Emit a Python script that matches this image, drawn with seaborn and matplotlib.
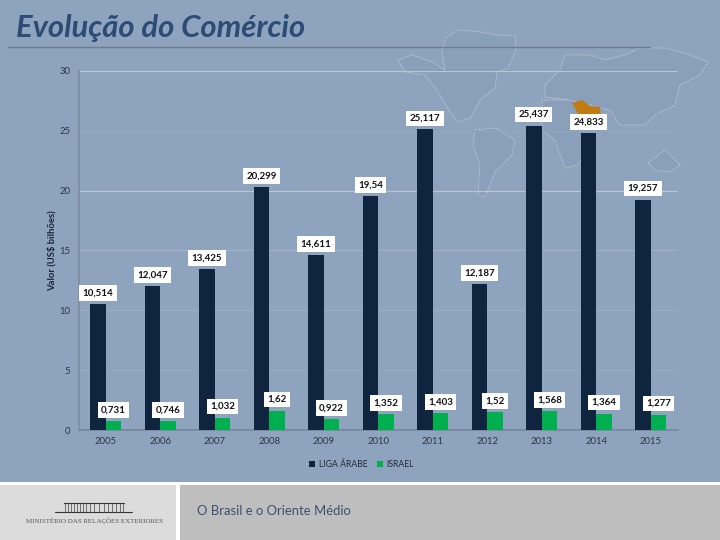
#!/bin/python3
import pandas as pd
import matplotlib.pyplot as plt
from matplotlib.patches import Polygon, Rectangle
import seaborn as sns

years = ["2005", "2006", "2007", "2008", "2009", "2010", "2011", "2012", "2013", "2014", "2015"]
liga_arabe = [10.514, 12.047, 13.425, 20.299, 14.611, 19.54, 25.117, 12.187, 25.437, 24.833, 19.257]
israel = [0.731, 0.746, 1.032, 1.62, 0.922, 1.352, 1.403, 1.52, 1.568, 1.364, 1.277]
y_ticks = [0, 5, 10, 15, 20, 25, 30]

BG = "#8EA3BE"
W, H = 720, 540
FONT = "Lato"

# Rough outlines of the world map behind the chart, in image pixels
map_shapes = [
    [(398, 60), (412, 55), (432, 62), (445, 70), (442, 50), (446, 38), (458, 30), (480, 32), (497, 35),
     (515, 36), (516, 50), (508, 68), (497, 72), (495, 88), (480, 100), (470, 118), (458, 122), (450, 112),
     (437, 90), (425, 75), (405, 72)],
    [(475, 130), (495, 128), (515, 140), (512, 155), (495, 172), (485, 197), (478, 195), (480, 165), (473, 145)],
    [(542, 100), (575, 100), (582, 118), (590, 145), (578, 165), (565, 168), (555, 140), (542, 130)],
    [(545, 85), (560, 70), (565, 55), (590, 55), (605, 60), (625, 55), (640, 48), (665, 48), (690, 55),
     (708, 62), (700, 75), (680, 85), (675, 105), (655, 115), (645, 125), (620, 125), (610, 110),
     (590, 105), (570, 100), (545, 97)],
    [(648, 163), (665, 150), (680, 165), (670, 172), (655, 170)],
]
orange_shape = [(572, 103), (582, 100), (590, 106), (600, 107), (601, 118), (580, 118), (576, 110)]


def px_rect(left, top, right, bottom):
    return [left / W, 1 - bottom / H, (right - left) / W, (bottom - top) / H]


def draw_backdrop(fig):
    # Overlay axes in pixel units for the slide decoration
    bg = fig.add_axes([0, 0, 1, 1], zorder=0)
    bg.set_xlim(0, W)
    bg.set_ylim(H, 0)
    bg.axis("off")

    for shape in map_shapes:
        bg.add_patch(Polygon(shape, closed=True, facecolor="#8A9FBA", edgecolor="#D5DEEA",
                             linewidth=0.5, linestyle=(0, (1.5, 1.5))))
    bg.add_patch(Polygon(orange_shape, closed=True, facecolor="#C07A12", edgecolor="none", zorder=3))

    bg.plot([8, 650], [46.5, 46.5], color="#6E7D90", linewidth=1)
    bg.text(16, 28, "Evolução do Comércio", fontsize=22.3, fontweight="bold", fontstyle="italic",
            color="#2C4B75", va="center", family=FONT)

    # Footer panels
    bg.add_patch(Rectangle((0, 482), W, 58, facecolor="white", edgecolor="none"))
    bg.add_patch(Rectangle((0, 485), 176, 55, facecolor="#DCDCDC", edgecolor="none"))
    bg.add_patch(Rectangle((180, 485), W - 180, 55, facecolor="#BEBEBE", edgecolor="none"))
    bg.text(197, 511, "O Brasil e o Oriente Médio", fontsize=9.4, color="#3D4F6E", va="center", family=FONT)

    # Ministry logo
    bg.plot([55, 132], [512, 512], color="#333333", linewidth=0.8)
    bg.plot([64, 124], [503, 503], color="#333333", linewidth=0.8)
    for x in [65, 68, 71, 74, 77, 80, 83, 86, 90, 94, 99, 104, 108, 112, 116, 120, 123]:
        bg.plot([x, x], [503, 512], color="#444444", linewidth=0.5)
    bg.text(95, 520.5, "MINISTÉRIO DAS RELAÇÕES EXTERIORES", fontsize=5, color="#555555",
            ha="center", va="center", family="Liberation Serif")


def create_bar_chart(fig):
    data = pd.DataFrame({
        "Ano": years * 2,
        "Valor": liga_arabe + israel,
        "Serie": ["LIGA ÁRABE"] * len(years) + ["ISRAEL"] * len(years),
    })

    ax = fig.add_axes(px_rect(78.5, 71, 678, 430), zorder=2)
    ax.patch.set_alpha(0)
    sns.barplot(data=data, x="Ano", y="Valor", hue="Serie", order=years, ax=ax,
                palette={"LIGA ÁRABE": "#0F243E", "ISRAEL": "#00B050"},
                width=0.57, saturation=1, errorbar=None, zorder=3, linewidth=0)

    ax.set_xlim(-0.5, len(years) - 0.5)
    ax.set_ylim(0, 30)
    ax.set_yticks(y_ticks)
    ax.set_xlabel("")
    ax.set_ylabel("Valor (US$ bilhões)", fontsize=6.8, fontweight="bold", color="#1A2433", labelpad=2)
    ax.tick_params(axis="both", labelsize=6.8, labelcolor="#2C3646", color="#76879E", length=2.5, width=0.7)
    ax.tick_params(axis="x", length=0, pad=5)

    # Gridlines come out uneven in the picture
    for tick, color in zip(y_ticks[1:], ["#94A8C1", "#9BAEC6", "#A0B1C8", "#B9C6D8", "#8FA4BF", "#B9C6D8"]):
        ax.axhline(tick, color=color, linewidth=0.9, zorder=1)

    sns.despine(ax=ax)
    ax.spines["left"].set_color("#7C8CA3")
    ax.spines["bottom"].set_color("#76879E")

    # White boxed labels above each bar
    for container in ax.containers[:2]:
        for bar, value in zip(container, container.datavalues):
            ax.annotate(str(round(float(value), 3)).replace(".", ","),
                        xy=(bar.get_x() + bar.get_width() / 2, value), xytext=(0, 8),
                        textcoords="offset points", ha="center", va="center",
                        fontsize=7, fontweight="bold", color="#111111", zorder=5,
                        bbox=dict(facecolor="white", edgecolor="none", pad=2.4))

    ax.legend(loc="center", bbox_to_anchor=(0.472, -0.095), ncol=2, frameon=False, fontsize=6.2,
              labelcolor="#222B38", handlelength=0.7, handleheight=0.7, handletextpad=0.4,
              columnspacing=1.1)
    return ax


def main():
    sns.set_theme(style="white")
    plt.rcParams["font.family"] = [FONT, "DejaVu Sans"]

    fig = plt.figure(figsize=(7.2, 5.4), dpi=100, facecolor=BG)
    draw_backdrop(fig)
    create_bar_chart(fig)
    fig.savefig("out.png", dpi=100, facecolor=BG)


if __name__ == "__main__":
    main()
